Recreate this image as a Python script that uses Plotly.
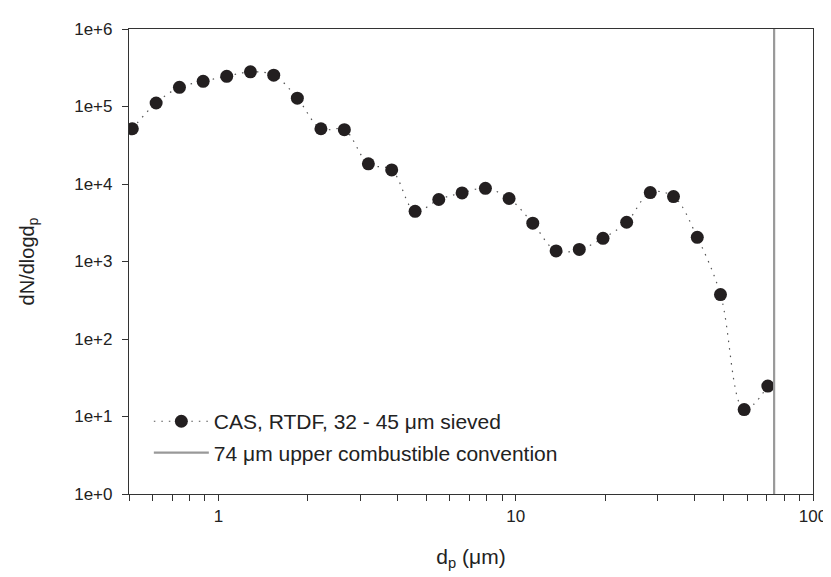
import plotly.graph_objects as go

# Particle diameter (µm) and number size distribution dN/dlogdp
dp_um = [0.513, 0.617, 0.739, 0.888, 1.066, 1.281, 1.534, 1.842, 2.211, 2.651,
         3.193, 3.826, 4.586, 5.509, 6.598, 7.906, 9.497, 11.41, 13.67, 16.36,
         19.66, 23.61, 28.35, 33.94, 40.80, 48.84, 58.67, 70.47]
dN_dlogdp = [51600, 111000, 177000, 211000, 245000, 280000, 254000, 128000, 51600, 50200,
             18200, 15200, 4440, 6310, 7680, 8790, 6500, 3120, 1370, 1430,
             1990, 3210, 7740, 6880, 2050, 374, 12.3, 24.7]

series_name = "CAS, RTDF, 32 - 45 \u03bcm sieved"
cutoff_name = "74 \u03bcm upper combustible convention"
cutoff_x = [74, 74]
cutoff_y = [1, 1e6]

y_tickvals = [1, 10, 100, 1e3, 1e4, 1e5, 1e6]
y_ticktext = ["1e+0", "1e+1", "1e+2", "1e+3", "1e+4", "1e+5", "1e+6"]
x_tickvals = [0.5, 0.6, 0.7, 0.8, 0.9, 1, 2, 3, 4, 5, 6, 7, 8, 9, 10,
              20, 30, 40, 50, 60, 70, 80, 90, 100]
x_ticktext = ["1" if v == 1 else "10" if v == 10 else "100" if v == 100 else "" for v in x_tickvals]

FONT = "Liberation Sans, Arial, sans-serif"
AX = "#333333"

fig = go.Figure()
fig.add_trace(go.Scatter(
    x=dp_um, y=dN_dlogdp, mode="lines+markers", name=series_name,
    legendgroup="a",
    line=dict(color="#555555", width=1.2, dash="1.5px,6px", shape="spline", smoothing=1),
    marker=dict(color="#231f20", size=13, symbol="circle"),
))
fig.add_trace(go.Scatter(
    x=cutoff_x, y=cutoff_y, mode="lines", name=cutoff_name,
    legendgroup="b",
    line=dict(color="#999999", width=2.2),
))

fig.update_layout(
    width=831, height=577,
    margin=dict(l=121, r=15, t=13, b=91),
    paper_bgcolor="white", plot_bgcolor="white",
    font=dict(family=FONT, color="#222222", size=17),
    showlegend=True,
    legend=dict(x=0.029, y=0.045, xanchor="left", yanchor="bottom",
                bgcolor="rgba(0,0,0,0)", font=dict(size=21, color="#222222"),
                itemwidth=55, tracegroupgap=1),
)
fig.update_xaxes(
    type="log", range=[-0.30103, 2],
    tickvals=x_tickvals, ticktext=x_ticktext,
    ticks="outside", ticklen=6, tickwidth=1, tickcolor=AX,
    showline=True, linecolor=AX, linewidth=1.2, mirror=True,
    showgrid=False, zeroline=False,
    tickfont=dict(size=17),
    title=dict(text="d<sub>p</sub> (\u03bcm)", font=dict(size=21), standoff=24),
)
fig.update_yaxes(
    type="log", range=[0, 6],
    tickvals=y_tickvals, ticktext=y_ticktext,
    ticks="outside", ticklen=6, tickwidth=1, tickcolor=AX,
    showline=True, linecolor=AX, linewidth=1.2, mirror=True,
    showgrid=False, zeroline=False,
    tickfont=dict(size=17), ticklabelstandoff=6,
    title=dict(text="dN/dlogd<sub>p</sub>", font=dict(size=20), standoff=34),
)

fig.write_html("out.html")
